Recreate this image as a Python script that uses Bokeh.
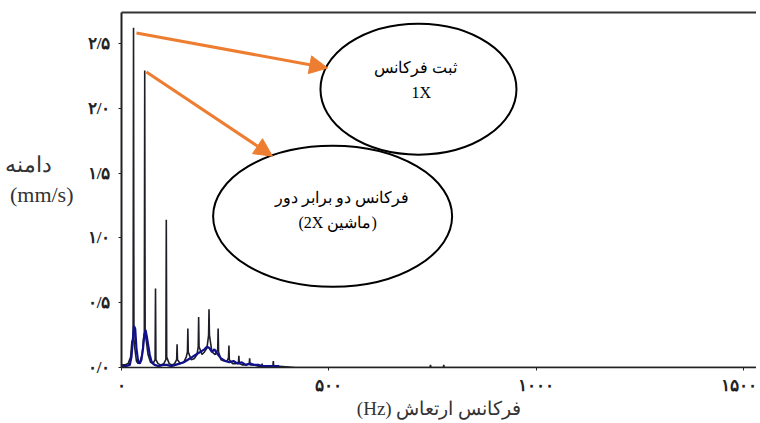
from bokeh.plotting import figure
from bokeh.models import (Range1d, LinearAxis, FixedTicker, Arrow, NormalHead)
from bokeh.core.properties import value
from bokeh.embed import file_html
from bokeh.resources import INLINE

# ---------------- data ----------------
# black spectrum (frequency Hz, amplitude mm/s)
black_f = [0, 8, 16, 22, 25, 28, 29, 30, 32, 36,
           40, 45, 50, 53, 55, 56, 57, 60, 64, 70,
           76, 81, 82, 83, 88, 95, 102, 107, 108, 109,
           115, 122, 128, 133, 134, 135, 142, 150, 156, 159,
           160, 161, 168, 176, 182, 185, 186, 187, 194, 200,
           206, 210, 211, 212, 218, 226, 232, 233, 234, 240,
           248, 255, 258, 259, 260, 268, 276, 282, 283, 284,
           292, 300, 308, 309, 310, 320, 330, 338, 339, 340,
           350, 360, 365, 366, 367, 380, 420, 500, 600, 700,
           744, 745, 746, 776, 777, 778, 900, 1100, 1300, 1531]
black_a = [0.02, 0.02, 0.03, 0.08, 0.20, 0.22, 2.62, 0.22, 0.15, 0.05,
           0.03, 0.05, 0.10, 0.22, 0.27, 2.29, 0.27, 0.20, 0.10, 0.04,
           0.03, 0.06, 0.61, 0.06, 0.03, 0.02, 0.03, 0.06, 1.14, 0.08,
           0.03, 0.02, 0.03, 0.06, 0.18, 0.06, 0.03, 0.04, 0.08, 0.12,
           0.30, 0.12, 0.06, 0.07, 0.10, 0.16, 0.39, 0.16, 0.10, 0.12,
           0.15, 0.25, 0.45, 0.25, 0.12, 0.10, 0.14, 0.30, 0.12, 0.06,
           0.05, 0.05, 0.08, 0.17, 0.06, 0.03, 0.03, 0.04, 0.09, 0.03,
           0.02, 0.02, 0.03, 0.07, 0.02, 0.02, 0.01, 0.01, 0.03, 0.01,
           0.01, 0.01, 0.01, 0.05, 0.01, 0.01, 0.00, 0.00, 0.00, 0.00,
           0.00, 0.02, 0.00, 0.00, 0.02, 0.00, 0.00, 0.00, 0.00, 0.00]

# blue spectrum
blue_f = [0, 10, 20, 24, 27, 30, 33, 36, 40, 44,
          48, 52, 55, 58, 61, 64, 68, 72, 76, 80,
          90, 100, 110, 120, 130, 140, 150, 160, 170, 180,
          190, 200, 206, 212, 218, 224, 230, 240, 250, 260,
          270, 280, 290, 300, 310, 320, 330, 340, 360, 380]
blue_a = [0.01, 0.01, 0.02, 0.08, 0.20, 0.32, 0.30, 0.15, 0.05, 0.03,
          0.06, 0.15, 0.25, 0.29, 0.24, 0.18, 0.10, 0.05, 0.03, 0.02,
          0.01, 0.02, 0.02, 0.01, 0.02, 0.03, 0.04, 0.06, 0.08, 0.10,
          0.12, 0.14, 0.16, 0.15, 0.12, 0.14, 0.11, 0.07, 0.05, 0.04,
          0.05, 0.03, 0.04, 0.02, 0.03, 0.02, 0.02, 0.01, 0.01, 0.01]

x_ticks = [0, 500, 1000, 1500]
x_tick_labels = ["۰", "۵۰۰", "۱۰۰۰", "۱۵۰۰"]
y_ticks = [0, 0.5, 1.0, 1.5, 2.0, 2.5]
y_tick_labels = ["۰/۰", "۰/۵", "۱/۰", "۱/۵", "۲/۰", "۲/۵"]

x_title = "(Hz) فرکانس ارتعاش"
y_title_lines = ["دامنه\u00a0\u00a0\u00a0\u00a0", "(mm/s)"]
y_title_levels = [1.564, 1.334]   # vertical placement of the two title lines

# callouts (ellipse centre, text lines, arrow start/end in data units)
call1_center = (716, 2.147)
call1_lines = ["ثبت فرکانس", "1X"]
call1_text_pos = [(709, 2.31), (723, 2.12)]
arrow1 = (36, 2.58, 497, 2.31)

call2_center = (509, 1.166)
call2_lines = ["فرکانس دو برابر دور", "(2X ماشین)"]
call2_text_pos = [(531, 1.311), (521, 1.12)]
arrow2 = (60, 2.28, 364, 1.63)

# ---------------- figure ----------------
W, H = 756, 421
p = figure(width=W, height=H, output_backend="svg", toolbar_location=None,
           x_range=Range1d(0, 1531), y_range=Range1d(0, 2.738),
           min_border_left=121, min_border_right=0, min_border_top=12,
           min_border_bottom=52, x_axis_location=None, y_axis_location=None)
p.outline_line_color = None
p.grid.visible = False
p.background_fill_color = "white"
p.border_fill_color = "white"

tick_font = "Liberation Serif"
text_font = "Liberation Serif"

xaxis = LinearAxis(ticker=FixedTicker(ticks=x_ticks),
                   major_label_overrides={t: l for t, l in zip(x_ticks, x_tick_labels)})
xaxis.axis_line_color = "#222222"
xaxis.axis_line_width = 1.5
xaxis.major_tick_out = 3
xaxis.major_tick_in = 0
xaxis.minor_tick_out = 0
xaxis.minor_tick_in = 0
xaxis.major_tick_line_color = "#222222"
xaxis.major_label_text_font = tick_font
xaxis.major_label_text_font_style = "bold"
xaxis.major_label_text_font_size = "17px"
xaxis.major_label_text_color = "#222222"
xaxis.major_label_standoff = 5
xaxis.axis_label = x_title
xaxis.axis_label_text_font = text_font
xaxis.axis_label_text_font_style = "normal"
xaxis.axis_label_text_font_size = "19px"
xaxis.axis_label_text_color = "#333333"
xaxis.axis_label_standoff = 0
p.add_layout(xaxis, "below")

yaxis = LinearAxis(ticker=FixedTicker(ticks=y_ticks),
                   major_label_overrides={t: l for t, l in zip(y_ticks, y_tick_labels)})
yaxis.axis_line_color = "#222222"
yaxis.axis_line_width = 2
yaxis.major_tick_out = 3
yaxis.major_tick_in = 0
yaxis.minor_tick_out = 0
yaxis.minor_tick_in = 0
yaxis.major_tick_line_color = "#222222"
yaxis.major_label_text_font = tick_font
yaxis.major_label_text_font_style = "bold"
yaxis.major_label_text_font_size = "17px"
yaxis.major_label_text_color = "#222222"
yaxis.major_label_standoff = 8
p.add_layout(yaxis, "left")

# horizontal y-axis title drawn as labels of a bare extra axis
ytitle_axis = LinearAxis(ticker=FixedTicker(ticks=y_title_levels),
                         major_label_overrides={t: l for t, l in zip(y_title_levels, y_title_lines)})
ytitle_axis.axis_line_color = None
ytitle_axis.major_tick_line_color = None
ytitle_axis.minor_tick_line_color = None
ytitle_axis.major_tick_out = 0
ytitle_axis.minor_tick_out = 0
ytitle_axis.major_label_standoff = 11
ytitle_axis.major_label_text_font = text_font
ytitle_axis.major_label_text_font_size = "22px"
ytitle_axis.major_label_text_color = "#333333"
p.add_layout(ytitle_axis, "left")

top_axis = LinearAxis(ticker=FixedTicker(ticks=[]))
top_axis.axis_line_color = "#333333"
top_axis.axis_line_width = 2
top_axis.major_tick_out = 0
top_axis.minor_tick_out = 0
top_axis.major_label_text_font_size = "0px"
p.add_layout(top_axis, "above")

# spectra
p.line(black_f, black_a, line_color="#1e1e28", line_width=1.6)
p.line(blue_f, blue_a, line_color="#10108c", line_width=2.2)

# callout ellipses
p.ellipse(x=[call1_center[0]], y=[call1_center[1]], width=196, height=131,
          width_units="screen", height_units="screen",
          fill_color="white", line_color="black", line_width=2)
p.ellipse(x=[call2_center[0]], y=[call2_center[1]], width=239, height=141,
          width_units="screen", height_units="screen",
          fill_color="white", line_color="black", line_width=2)

for (tx, ty), line in zip(call1_text_pos, call1_lines):
    p.text(x=[tx], y=[ty], text=[line], text_font=value(text_font),
           text_font_size="16px", text_align="center", text_baseline="middle",
           text_color="black")
for (tx, ty), line in zip(call2_text_pos, call2_lines):
    p.text(x=[tx], y=[ty], text=[line], text_font=value(text_font),
           text_font_size="16px", text_align="center", text_baseline="middle",
           text_color="black")

orange = "#ED7D31"
for (xs, ys, xe, ye) in (arrow1, arrow2):
    p.add_layout(Arrow(x_start=xs, y_start=ys, x_end=xe, y_end=ye,
                       line_color=orange, line_width=3,
                       end=NormalHead(size=18, fill_color=orange, line_color=orange)))

open("out.html", "w").write(file_html(p, INLINE))
